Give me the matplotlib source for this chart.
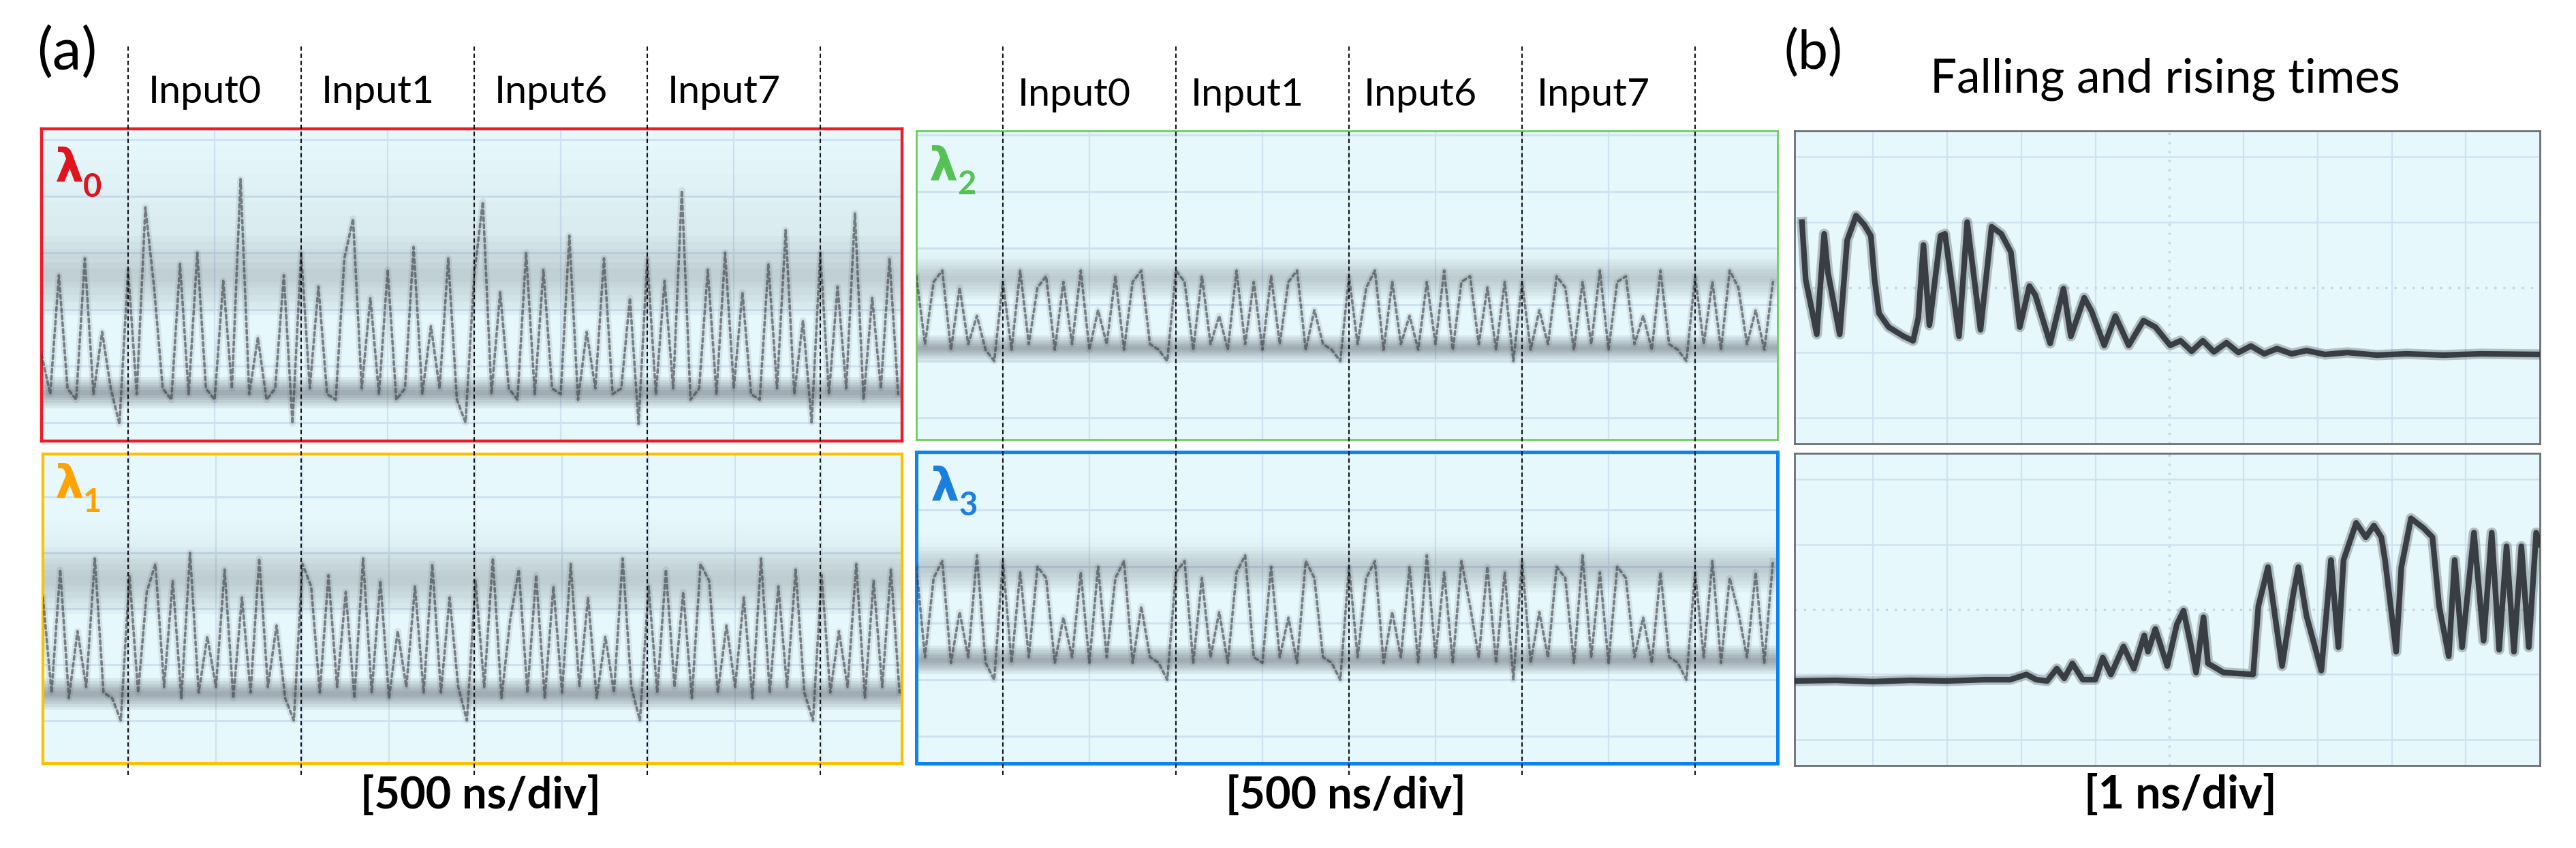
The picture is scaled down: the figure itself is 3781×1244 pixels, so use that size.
import numpy as np
import matplotlib
matplotlib.use("Agg")
import matplotlib.pyplot as plt

plt.rcParams['font.family'] = ['Lato', 'DejaVu Sans']

W, H = 3781, 1244
fig = plt.figure(figsize=(W / 100, H / 100), dpi=100)

# ---------------- data ----------------
input_labels = ["Input0", "Input1", "Input6", "Input7"]
segment_bounds = [1, 3, 5, 7, 9]          # dashed lines, in 500 ns divisions

# (a) traces, sampled every 0.1 div (levels in divisions)
lam0 = [1.2, 0.5, 2.6, 0.6, 0.4, 2.9, 0.5, 1.6, 0.6, -0.03,
        2.7, 0.5, 3.8, 2.4, 0.6, 0.4, 2.8, 0.5, 3.0, 0.6,
        0.4, 2.5, 0.6, 4.3, 0.5, 1.5, 0.4, 0.6, 2.6, -0.02,
        3.0, 0.6, 2.4, 0.5, 0.4, 2.9, 3.6, 0.6, 2.2, 0.5,
        2.7, 0.4, 0.6, 3.1, 0.5, 1.7, 0.6, 2.9, 0.4, 0.0,
        2.6, 3.9, 0.5, 2.3, 0.6, 0.4, 3.0, 0.5, 2.7, 0.6,
        0.5, 3.3, 0.4, 1.6, 0.6, 2.9, 0.5, 0.6, 2.2, -0.03,
        2.9, 0.5, 2.5, 0.6, 4.1, 0.4, 0.6, 2.7, 0.5, 3.0,
        0.6, 2.3, 0.5, 0.4, 2.8, 0.6, 3.4, 0.5, 1.8, 0.0,
        3.0, 0.5, 2.4, 0.6, 3.7, 0.4, 2.2, 0.6, 2.9, 0.5]
lam1 = [2.2, 0.5, 2.7, 0.4, 1.6, 0.6, 2.9, 0.5, 0.4, 0.0,
        2.6, 0.5, 2.3, 2.8, 0.6, 2.5, 0.4, 3.0, 0.5, 1.5,
        0.6, 2.7, 0.4, 2.2, 0.5, 2.9, 0.6, 1.7, 0.4, 0.0,
        2.8, 2.4, 0.5, 2.6, 0.6, 2.3, 0.4, 2.9, 0.5, 2.5,
        0.4, 1.6, 0.6, 2.4, 0.5, 2.8, 0.5, 2.2, 0.6, 0.0,
        2.5, 0.6, 2.9, 0.4, 1.8, 2.7, 0.5, 2.6, 0.4, 2.4,
        0.5, 2.8, 0.6, 2.2, 0.4, 1.5, 0.5, 2.9, 0.6, 0.0,
        2.4, 0.5, 2.7, 0.6, 2.3, 0.4, 2.8, 2.5, 0.5, 1.7,
        0.6, 2.2, 0.4, 2.9, 0.5, 2.4, 0.6, 2.7, 0.5, 0.0,
        2.6, 0.5, 1.6, 0.6, 2.8, 0.4, 2.5, 0.6, 2.7, 0.5]
lam2 = [2.5, 1.3, 2.4, 2.6, 1.2, 2.3, 1.3, 1.8, 1.2, 1.0,
        2.4, 1.2, 2.6, 1.3, 2.3, 2.5, 1.2, 2.4, 1.3, 2.6,
        1.2, 1.9, 1.3, 2.5, 1.2, 2.4, 2.6, 1.3, 1.2, 1.0,
        2.6, 2.4, 1.2, 2.5, 1.3, 1.8, 1.2, 2.6, 1.3, 2.4,
        1.2, 2.5, 1.3, 2.4, 2.6, 1.2, 1.9, 1.3, 1.2, 1.0,
        2.5, 1.3, 2.3, 2.6, 1.2, 2.4, 1.3, 1.8, 1.2, 2.4,
        1.3, 2.6, 1.2, 2.4, 2.5, 1.3, 2.3, 1.2, 2.4, 1.0,
        2.4, 1.2, 1.9, 1.3, 2.5, 2.3, 1.2, 2.4, 1.3, 2.6,
        1.2, 2.4, 2.5, 1.3, 1.8, 1.2, 2.6, 1.3, 1.2, 1.0,
        2.5, 1.3, 2.4, 1.2, 2.6, 2.3, 1.3, 1.9, 1.2, 2.4]
lam3 = [3.0, 1.4, 2.8, 3.1, 1.3, 2.2, 1.4, 3.2, 1.3, 1.0,
        3.1, 1.3, 2.9, 1.4, 3.0, 2.8, 1.3, 2.1, 1.4, 2.9,
        1.3, 3.0, 1.4, 2.8, 3.1, 1.3, 2.3, 1.4, 1.3, 1.0,
        2.9, 3.1, 1.3, 2.8, 1.4, 2.2, 1.3, 2.9, 3.2, 1.4,
        1.3, 3.0, 1.4, 2.1, 1.3, 3.1, 2.8, 1.4, 1.3, 1.0,
        3.0, 1.4, 2.8, 3.1, 1.3, 2.2, 1.4, 3.0, 1.3, 3.2,
        1.4, 2.9, 1.3, 3.1, 2.3, 1.4, 3.0, 1.3, 2.9, 1.0,
        3.1, 1.3, 2.2, 1.4, 3.0, 2.8, 1.3, 3.2, 1.4, 2.9,
        1.3, 3.0, 2.8, 1.4, 2.1, 1.3, 2.9, 1.4, 1.3, 1.0,
        2.9, 1.4, 3.1, 1.3, 2.8, 2.2, 1.4, 2.9, 1.3, 3.1]
# high / low level bands (bottom, top) of each channel, in divisions
hi_bands = [(1.9, 3.3), (1.9, 3.1), (2.1, 2.8), (2.55, 3.35)]
lo_bands = [(0.25, 0.8), (0.2, 0.75), (1.0, 1.45), (1.1, 1.6)]
sparse_top = [4.9, 3.6, 3.0, 3.6]

# (b) falling and rising edges, 1 ns/div
fall_x = [0.04, 0.09, 0.24, 0.34, 0.39, 0.55, 0.65, 0.77, 0.88, 0.97, 1.02, 1.08,
          1.21, 1.41, 1.54, 1.61, 1.68, 1.76, 1.91, 1.97, 2.16, 2.27, 2.45, 2.60,
          2.73, 2.86, 2.98, 3.11, 3.19, 3.39, 3.57, 3.67, 3.85, 3.95, 4.12, 4.27,
          4.45, 4.65, 4.81, 5.01, 5.15, 5.30, 5.45, 5.60, 5.77, 5.93, 6.10, 6.28,
          6.45, 6.65, 6.85, 7.10, 7.40, 7.80, 8.20, 8.70, 9.20, 10.0]
fall_y = [1.00, 0.12, -0.72, 0.82, 0.23, -0.72, 0.72, 1.10, 0.96, 0.79, 0.12, -0.40,
          -0.61, -0.75, -0.82, -0.47, 0.65, -0.58, 0.79, 0.82, -0.75, 1.00, -0.65, 0.93,
          0.82, 0.54, -0.61, 0.02, -0.12, -0.86, -0.02, -0.75, -0.16, -0.37, -0.89, -0.44,
          -0.89, -0.51, -0.61, -0.89, -0.82, -0.98, -0.82, -0.99, -0.85, -1.00, -0.90, -1.02,
          -0.94, -1.02, -0.97, -1.03, -1.00, -1.04, -1.02, -1.04, -1.02, -1.03]
rise_x = [-0.06, 0.5, 1.0, 1.5, 2.0, 2.5, 2.85, 3.07, 3.2, 3.35, 3.48, 3.58, 3.69,
          3.83, 4.0, 4.10, 4.21, 4.38, 4.52, 4.66, 4.71, 4.81, 4.97, 5.10, 5.19, 5.28,
          5.36, 5.46, 5.52, 5.73, 6.13, 6.20, 6.33, 6.40, 6.52, 6.67, 6.74, 6.85, 7.05,
          7.15, 7.18, 7.28, 7.35, 7.52, 7.65, 7.76, 7.86, 7.91, 8.06, 8.13, 8.26, 8.43,
          8.55, 8.64, 8.77, 8.85, 8.95, 9.11, 9.24, 9.35, 9.45, 9.55, 9.65, 9.75, 9.85,
          9.95, 10.0]
rise_y = [-1.10, -1.09, -1.11, -1.09, -1.10, -1.08, -1.08, -1.00, -1.08, -1.10, -0.91, -1.06, -0.83,
          -1.08, -1.08, -0.74, -1.00, -0.57, -0.91, -0.40, -0.65, -0.30, -0.87, -0.23, -0.02, -0.50,
          -0.97, -0.12, -0.83, -0.97, -1.00, 0.05, 0.65, 0.10, -0.87, 0.23, 0.65, -0.10, -0.94,
          0.34, 0.76, -0.58, 0.76, 1.33, 1.11, 1.29, 1.11, 0.76, -0.65, 0.65, 1.40, 1.25,
          1.11, 0.05, -0.72, 0.76, -0.58, 1.18, -0.48, 1.18, -0.62, 0.97, -0.65, 0.97, -0.58,
          1.18, 1.00]

# ---------------- helpers ----------------
BG = '#E6F8FC'
GRID = '#CFE2F1'
TRACE = '#373C42'


def fx(x):
    return x / W


def fy(y):
    return 1 - y / H


def add_ax(x0, y0, x1, y1, **kw):
    return fig.add_axes([x0 / W, 1 - y1 / H, (x1 - x0) / W, (y1 - y0) / H], **kw)


def style_panel(ax, color, lw):
    ax.set_facecolor(BG)
    ax.set_xticks([])
    ax.set_yticks([])
    for s in ax.spines.values():
        s.set_color(color)
        s.set_linewidth(lw)


def soft_band(ax, lo, hi, alpha, color, steps=6):
    # several nested translucent spans give the band soft edges
    half = (hi - lo) / 2.0
    for k in range(steps):
        inset = half * k / steps
        ax.axhspan(lo + inset, hi - inset, color=color, alpha=alpha / steps * 1.6,
                   lw=0, zorder=2)


fits = []

# ---------------- (a) panels ----------------
panels = [
    ((61, 189, 1324, 647), (-0.33, 5.19), '#EE1C25', 3.2, (80, 214, 297), '#E0141C', lam0),
    ((63, 666, 1324, 1120), (-0.77, 4.77), '#FFC000', 3.0, (80, 678, 759), '#FFA200', lam1),
    ((1345, 192, 2609, 645), (-0.39, 5.07), '#6CCF5A', 2.0, (1363, 212, 293), '#55C255', lam2),
    ((1345, 663, 2609, 1120), (-0.48, 5.03), '#0A84F0', 3.6, (1365, 682, 764), '#1C7FE0', lam3),
]
subs = ['0', '1', '2', '3']
for i, (rect, ylim, col, lw, lpos, tcol, trace) in enumerate(panels):
    ax = add_ax(*rect)
    style_panel(ax, col, lw)
    xmax = (rect[2] - rect[0]) / 127.0
    ax.set_xlim(0, xmax)
    ax.set_ylim(*ylim)
    for gx in range(1, 10):
        ax.axvline(gx, color=GRID, lw=1.6, zorder=1)
    for gy in range(0, 6):
        ax.axhline(gy, color=GRID, lw=2.2, zorder=1)
    soft_band(ax, hi_bands[i][0], sparse_top[i], 0.04, '#5A6068')
    soft_band(ax, *hi_bands[i], 0.14, '#5A6068')
    soft_band(ax, *lo_bands[i], 0.30, '#3A4048')
    xs = np.arange(len(trace)) * 0.1
    ax.plot(xs, trace, color=TRACE, lw=7, alpha=0.10, zorder=3, solid_joinstyle='round')
    ax.plot(xs, trace, color=TRACE, lw=2.6, alpha=0.6, zorder=4,
            ls=(0, (1.5, 1.3)), dash_capstyle='round')
    # lambda label
    lx, ltop, lsub = lpos
    fig.text(fx(lx), fy(ltop), 'λ', color=tcol, fontsize=48, fontweight='bold',
             family=['DejaVu Sans'], ha='left', va='top')
    fig.text(fx(lx + 42), fy(lsub), subs[i], color=tcol, fontsize=34, fontweight='bold',
             ha='left', va='bottom')

# dashed input separators and input labels
for (x0, x1, lab_off, base) in [(61, 1324, 30, 151), (1345, 2609, 22, 155)]:
    ov = add_ax(x0, 67, x1, 1137)
    ov.set_xlim(0, (x1 - x0) / 127.0)
    ov.set_ylim(0, 1)
    ov.axis('off')
    ov.patch.set_alpha(0)
    ov.set_zorder(10)
    for b in segment_bounds:
        ov.axvline(b, color='#111111', lw=1.5, ls=(0, (3, 2)))
    for k, lab in enumerate(input_labels):
        px = x0 + segment_bounds[k] * 127.0 + lab_off
        t = fig.text(fx(px), fy(base), lab, fontsize=40, ha='left', va='baseline')
        fits.append((t, 166))

# ---------------- (b) panels ----------------
for (rect, xs, ys) in [((2634, 192, 3728, 651), fall_x, fall_y),
                       ((2634, 665, 3728, 1123), rise_x, rise_y)]:
    ax = add_ax(*rect)
    style_panel(ax, '#6B7075', 2.0)
    ax.set_xlim(-0.06, 10.0)
    ax.set_ylim(-2.4, 2.4)
    for gx in range(1, 10):
        if gx == 5:
            ax.axvline(gx, color='#C3D6EA', lw=2.4, ls=(0, (1, 3)), zorder=1)
        else:
            ax.axvline(gx, color=GRID, lw=1.6, zorder=1)
    for gy in range(-2, 3):
        if gy == 0:
            ax.axhline(gy, color='#C3D6EA', lw=2.4, ls=(0, (1, 3)), zorder=1)
        else:
            ax.axhline(gy, color=GRID, lw=1.8, zorder=1)
    ax.plot(xs, ys, color=TRACE, lw=11, alpha=0.30, zorder=3, solid_joinstyle='round')
    ax.plot(xs, ys, color='#2C3036', lw=6, alpha=0.9, zorder=4, solid_joinstyle='round')

# ---------------- texts ----------------
t = fig.text(fx(98), fy(77), '(a)', fontsize=40, ha='center', va='center')
fits.append((t, 88))
t = fig.text(fx(2662), fy(79), '(b)', fontsize=40, ha='center', va='center')
fits.append((t, 86))
t = fig.text(fx(3178), fy(135), 'Falling and rising times', fontsize=44, ha='center', va='baseline')
fits.append((t, 690))
for cx, s, w in [(705, '[500 ns/div]', 353), (1975, '[500 ns/div]', 353), (3200, '[1 ns/div]', 283)]:
    t = fig.text(fx(cx), fy(1167), s, fontsize=40, fontweight='bold', ha='center', va='center')
    fits.append((t, w))

fig.canvas.draw()
r = fig.canvas.get_renderer()
for t, w in fits:
    bb = t.get_window_extent(r)
    t.set_fontsize(t.get_fontsize() * w / bb.width)

fig.savefig('out.png', dpi=100, facecolor='white')
